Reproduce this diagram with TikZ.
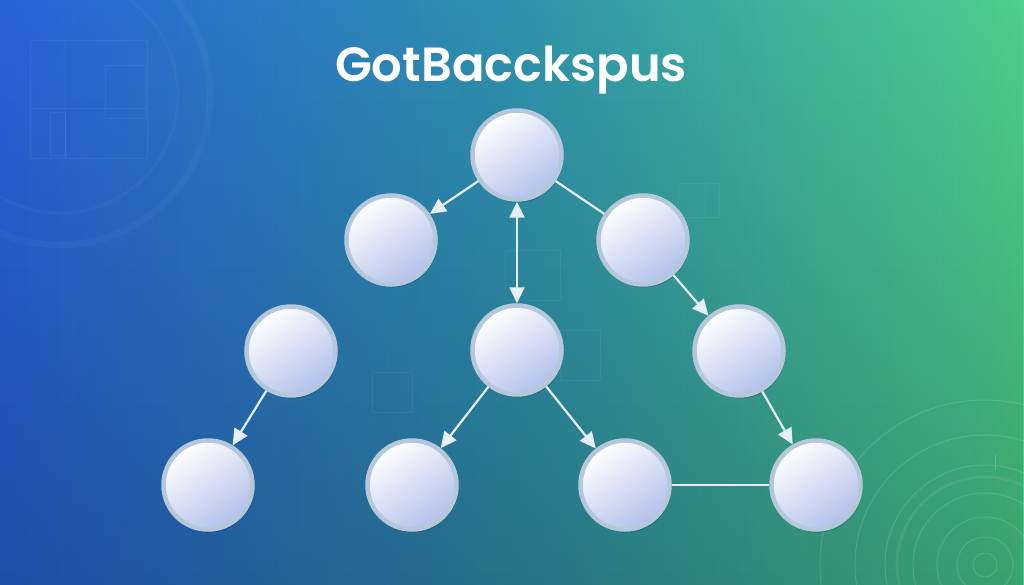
\documentclass[tikz,border=0pt]{standalone}
\usepackage{fontspec}
\setmainfont{Poppins}
\newfontfamily\titlefont{Poppins}[UprightFont=*-SemiBold]
\usetikzlibrary{arrows.meta,shadows,fadings}
\definecolor{bgL}{HTML}{2863DA}
\definecolor{bgM}{HTML}{2F92AE}
\definecolor{bgR}{HTML}{4CD08C}
\definecolor{ringc}{HTML}{B4C8DA}
\definecolor{nodebot}{HTML}{B2C0EA}
\definecolor{edgec}{HTML}{E4EDF6}
\definecolor{shadowc}{HTML}{10305A}
\tikzset{
  gnode/.style={circle, minimum size=89pt, inner sep=0pt, draw=ringc, line width=4.5pt,
    top color=white, bottom color=nodebot, shading angle=35,
    drop shadow={opacity=0.28, shadow xshift=1.5pt, shadow yshift=-3pt, fill=shadowc}},
  edge/.style={draw=edgec, line width=2.2pt},
  arr/.style={edge, -{Triangle[length=16pt,width=15pt,fill=edgec!85!white]}},
  darr/.style={edge, {Triangle[length=16pt,width=15pt,fill=edgec!85!white]}-{Triangle[length=16pt,width=15pt,fill=edgec!85!white]}},
  deco/.style={draw=white, line width=0.8pt, opacity=0.05},
  ring/.style={draw=white, line width=1pt, opacity=0.13},
}
\begin{document}
\begin{tikzpicture}[x=1pt,y=-1pt]
\useasboundingbox (0,0) rectangle (1024,585);
% background
\shade[left color=bgL, right color=bgR, middle color=bgM] (0,0) rectangle (1024,585);
\fill[black, opacity=0.22, path fading=north] (0,0) rectangle (1024,585);
% top-left decoration
\draw[draw=white, line width=7pt, opacity=0.03] (60,95) circle[radius=150];
\draw[draw=white, line width=3pt, opacity=0.03] (60,95) circle[radius=118];
\draw[deco] (30,40) rectangle (147,158);
\draw[deco] (65,40) -- (65,158) (30,108) -- (147,108);
\draw[deco] (105,65) rectangle (145,118);
\draw[deco] (50,112) rectangle (65,155);
% other faint squares
\draw[deco] (678,183) rectangle (719,217) (705,183) -- (705,217);
\draw[deco] (505,250) rectangle (560,300);
\draw[deco] (372,372) rectangle (412,412);
\draw[deco] (560,330) rectangle (600,380);
% bottom-right rings
\foreach \r in {12,28,48,72,100,130,165}
  \draw[ring] (985,565) circle[radius=\r];
\draw[draw=white, line width=3pt, opacity=0.07] (985,565) circle[radius=88];
\draw[draw=white, line width=1pt, opacity=0.2] (995,455) -- (995,470);
% title
\node[text=white, font=\titlefont\fontsize{48}{58}\selectfont] (title) at (511,70) {GotBacckspus};
% nodes
\node[gnode] (top) at (517,155) {};
\node[gnode] (l1)  at (391,240) {};
\node[gnode] (r1)  at (643,240) {};
\node[gnode] (l2)  at (291,351) {};
\node[gnode] (mid) at (517,350) {};
\node[gnode] (r2)  at (739,351) {};
\node[gnode] (b1)  at (208,485) {};
\node[gnode] (b2)  at (412,485) {};
\node[gnode] (b3)  at (625,485) {};
\node[gnode] (b4)  at (816,485) {};
% edges
\draw[arr] (top) -- (l1);
\draw[edge] (top) -- (r1);
\draw[darr] (top) -- (mid);
\draw[arr] (r1) -- (r2);
\draw[arr] (l2) -- (b1);
\draw[arr] (mid) -- (b2);
\draw[arr] (mid) -- (b3);
\draw[arr] (r2) -- (b4);
\draw[edge] (b3) -- (b4);
\end{tikzpicture}
\end{document}
